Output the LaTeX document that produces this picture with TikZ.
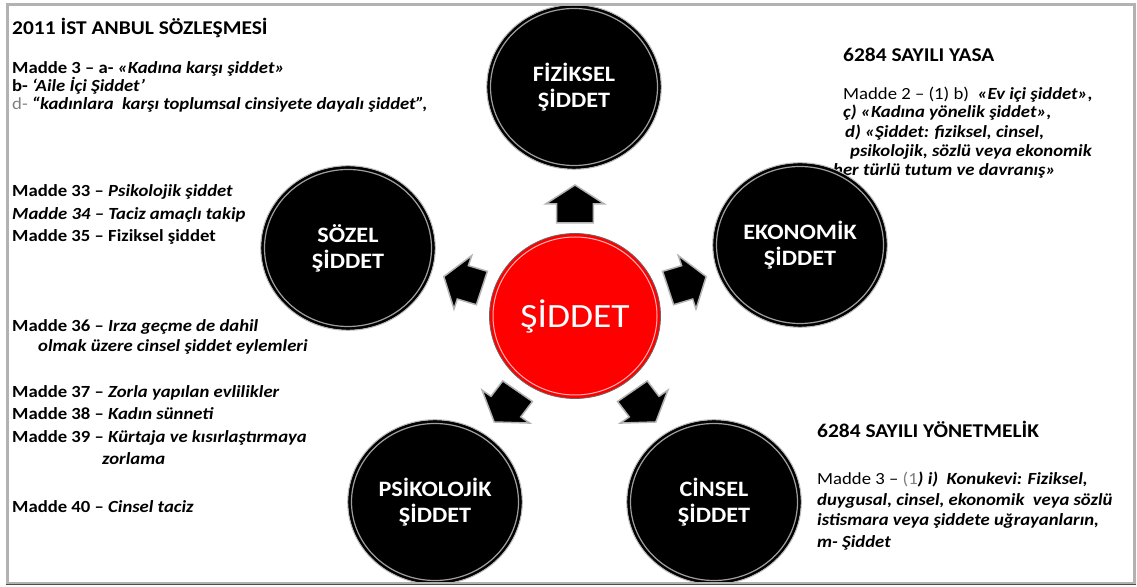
\documentclass[tikz,border=0pt]{standalone}
\usepackage{fontspec}
\setmainfont{Carlito}[FakeStretch=1.1]
\usetikzlibrary{shapes.geometric}
\begin{document}
\begin{tikzpicture}[x=1pt,y=1pt,
  bcirc/.style={ellipse, fill=black, minimum width=174pt, minimum height=164pt, inner sep=0pt, outer sep=0pt,
    text=white, align=center, font=\fontsize{22}{26}\selectfont\bfseries},
  rcirc/.style={ellipse, fill=red, minimum width=171pt, minimum height=165pt, inner sep=0pt, outer sep=0pt,
    text=white, font=\fontsize{34}{40}\selectfont},
  lt/.style={anchor=base west, inner sep=0pt, font=\fontsize{17}{20}\selectfont\bfseries},
  rt/.style={anchor=base west, inner sep=0pt, font=\fontsize{17}{20}\selectfont},
  hd/.style={anchor=base west, inner sep=0pt, font=\fontsize{19.5}{23}\selectfont\bfseries},
  ring/.style={draw=gray!75, line width=1.2pt},
  edge/.style={draw=gray!55, line width=1pt},
  blk/.style={fill=black, draw=gray!60, line width=1.5pt, line join=miter}
]
\useasboundingbox (0,0) rectangle (1137,586);

% ---- left texts ----
\node[hd] (l0) at (12,551) {2011 İST ANBUL SÖZLEŞMESİ};
\node[lt] (l1) at (12,512) {Madde 3 – a- \textit{«Kadına karşı şiddet»}};
\node[lt] (l2) at (12,494) {b- \textit{‘Aile İçi Şiddet’}};
\node[lt] (l3) at (12,476) {{\mdseries\color{gray}d-} \textit{“kadınlara\ \ karşı toplumsal cinsiyete dayalı şiddet”,}};
\node[lt] (l4) at (12,389) {Madde 33 – \textit{Psikolojik şiddet}};
\node[lt] (l5) at (12,366) {\textit{Madde 34 – Taciz amaçlı takip}};
\node[lt] (l6) at (12,344) {Madde 35 – Fiziksel şiddet};
\node[lt] (l7) at (12,254) {Madde 36 – \textit{Irza geçme de dahil}};
\node[lt] (l8) at (38,234) {\textit{olmak üzere cinsel şiddet eylemleri}};
\node[lt] (l9) at (12,188) {Madde 37 – \textit{Zorla yapılan evlilikler}};
\node[lt] (l10) at (12,166) {Madde 38 – \textit{Kadın sünneti}};
\node[lt] (l11) at (12,143) {Madde 39 – \textit{Kürtaja ve kısırlaştırmaya}};
\node[lt] (l12) at (102,121) {\textit{zorlama}};
\node[lt] (l13) at (12,73) {Madde 40 – \textit{Cinsel taciz}};

% ---- right texts ----
\node[hd] (r0) at (843,524) {6284 SAYILI YASA};
\node[rt] (r1) at (843,486) {Madde 2 – (1) b)\ \ \textbf{\textit{«Ev içi şiddet»,}}};
\node[rt] (r2) at (843,468) {\textbf{\textit{ç) «Kadına yönelik şiddet»,}}};
\node[rt] (r3) at (845,448) {\textbf{\textit{d) «Şiddet: fiziksel, cinsel,}}};
\node[rt] (r4) at (850,429) {\textbf{\textit{psikolojik, sözlü veya ekonomik}}};
\node[rt] (r5) at (833,410) {\textbf{\textit{her türlü tutum ve davranış»}}};
\node[hd] (r6) at (817,148) {6284 SAYILI YÖNETMELİK};
\node[rt] (r7) at (817,101) {Madde 3 – {\color{gray}(1}\textbf{\textit{) i)\ \ Konukevi: Fiziksel,}}};
\node[rt] (r8) at (817,80) {\textbf{\textit{duygusal, cinsel, ekonomik\ \ veya sözlü}}};
\node[rt] (r9) at (817,60) {\textbf{\textit{istismara veya şiddete uğrayanların,}}};
\node[rt] (r10) at (817,38) {\textbf{\textit{m- Şiddet}}};

% ---- circles ----
\begin{scope}
\clip (0,3) rectangle (1137,586);
\node[bcirc] (fiz) at (574,499) {FİZİKSEL\\ŞİDDET};
\node[bcirc] (soz) at (348,338) {SÖZEL\\ŞİDDET};
\node[bcirc] (eko) at (800,341) {EKONOMİK\\ŞİDDET};
\node[bcirc] (psi) at (435,84) {PSİKOLOJİK\\ŞİDDET};
\node[bcirc] (cin) at (714,84) {CİNSEL\\ŞİDDET};
\foreach \n in {fiz,soz,eko,psi,cin}{
  \draw[ring] (\n.center) ellipse [x radius=83.5, y radius=78.5];
  \draw[edge] (\n.center) ellipse [x radius=87.3, y radius=82.3];
}
\end{scope}

\node[rcirc] (ctr) at (575,270) {ŞİDDET};
\draw[white, opacity=0.7, line width=1pt] (ctr.center) ellipse [x radius=82, y radius=79];
\draw[black!60, line width=0.8pt] (ctr.center) ellipse [x radius=85.5, y radius=82.5];

% ---- arrows ----
\begin{scope}[shift={(ctr.center)}, xscale=1.05]
\foreach \a in {90,17.5,-54,-126,162.5}{
  \draw[blk, rotate=\a] (93,-17.5) -- (112,-17.5) -- (112,-28) -- (131,0)
     -- (112,28) -- (112,17.5) -- (93,17.5) -- cycle;
}
\end{scope}

% ---- frame ----
\draw[gray!60, line width=3pt] (7,3) rectangle (1134,581);
\draw[black!70, line width=1.2pt] (5.5,1.8) -- (1135.5,1.8);
\end{tikzpicture}
\end{document}
